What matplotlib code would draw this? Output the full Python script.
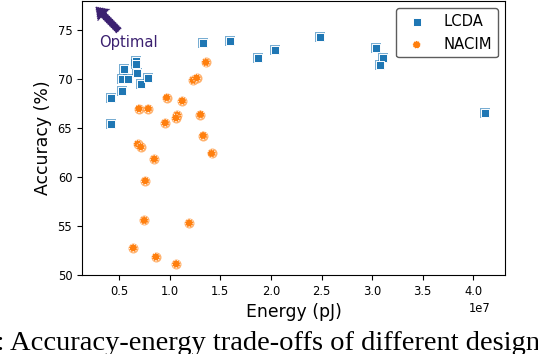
import matplotlib
matplotlib.use("Agg")
import matplotlib.pyplot as plt
import numpy as np

# LCDA designs (energy in pJ, accuracy in %)
lcda_energy = [0.415e7, 0.415e7, 0.524e7, 0.524e7, 0.546e7, 0.583e7, 0.665e7,
               0.665e7, 0.678e7, 0.711e7, 0.786e7, 1.329e7, 1.596e7, 1.867e7,
               2.037e7, 2.488e7, 3.034e7, 3.106e7, 3.074e7, 4.12e7]
lcda_acc = [68.1, 65.4, 68.8, 70.0, 71.05, 70.0, 71.85, 71.6, 70.65, 69.5,
            70.1, 73.75, 73.9, 72.2, 72.95, 74.3, 73.2, 72.2, 71.45, 66.55]

# NACIM designs
nacim_energy = [1.356e7, 1.23e7, 1.264e7, 0.968e7, 1.122e7, 0.694e7, 0.786e7,
                1.073e7, 1.06e7, 1.303e7, 0.954e7, 1.329e7, 0.682e7, 0.711e7,
                1.412e7, 0.846e7, 0.757e7, 0.747e7, 1.191e7, 0.638e7, 0.862e7,
                1.063e7]
nacim_acc = [71.73, 69.9, 70.13, 68.13, 67.79, 67.0, 67.0, 66.33, 66.05, 66.4,
             65.54, 64.25, 63.37, 63.09, 62.42, 61.84, 59.62, 55.58, 55.3,
             52.76, 51.84, 51.12]

x_ticks = [0.5e7, 1.0e7, 1.5e7, 2.0e7, 2.5e7, 3.0e7, 3.5e7, 4.0e7]
y_ticks = [50, 55, 60, 65, 70, 75]

purple = "#3b2070"

fig = plt.figure(figsize=(5.38, 3.54), dpi=100)
ax = fig.add_axes([0.1524, 0.2232, 0.7863, 0.7740])

# lighter halo underneath, then marker with white rim on top
ax.scatter(lcda_energy, lcda_acc, marker="s", s=52, color="#1f77b4",
           alpha=0.6, linewidths=0, zorder=2)
ax.scatter(nacim_energy, nacim_acc, marker="o", s=52, color="#ff7f0e",
           alpha=0.6, linewidths=0, zorder=2)
ax.scatter(lcda_energy, lcda_acc, marker="s", s=30, color="#1f77b4",
           edgecolors="white", linewidths=0.7, zorder=3, label="LCDA")
ax.scatter(nacim_energy, nacim_acc, marker="o", s=30, color="#ff7f0e",
           edgecolors="white", linewidths=0.7, linestyle=":", zorder=3,
           label="NACIM")

# "Optimal" direction arrow
ax.annotate("", xy=(0.263e7, 77.45), xytext=(0.5e7, 74.93),
            arrowprops=dict(arrowstyle="simple,head_length=0.9,head_width=1.3,tail_width=0.55",
                            fc=purple, ec="white", lw=0.6, ls=":",
                            shrinkA=0, shrinkB=0, mutation_scale=10))
ax.text(0.303e7, 73.8, "Optimal", color=purple, fontsize=10.6,
        ha="left", va="center")

ax.set_xlim(0.132e7, 4.313e7)
ax.set_ylim(50, 78)
ax.set_xticks(x_ticks)
ax.set_yticks(y_ticks)
ax.tick_params(labelsize=8.3)
ax.xaxis.get_offset_text().set_fontsize(8.3)
ax.xaxis.get_offset_text().set_x(0.965)

ax.set_xlabel("Energy (pJ)", fontsize=12.4)
ax.set_ylabel("Accuracy (%)", fontsize=12.4)

leg = ax.legend(loc="upper right", fontsize=10.6, scatterpoints=1)
leg.get_frame().set_edgecolor("#333333")

# caption strip from the paper (cut off at the figure border)
fig.text(4.5 / 538, 4 / 354, "Fig. 5:", family="Liberation Serif",
         fontsize=20.5, ha="right", va="baseline")
fig.text(10 / 538, 4 / 354, "Accuracy-energy trade-offs of different designs",
         family="Liberation Serif", fontsize=20.5, ha="left", va="baseline")

fig.savefig("out.png", dpi=100)
